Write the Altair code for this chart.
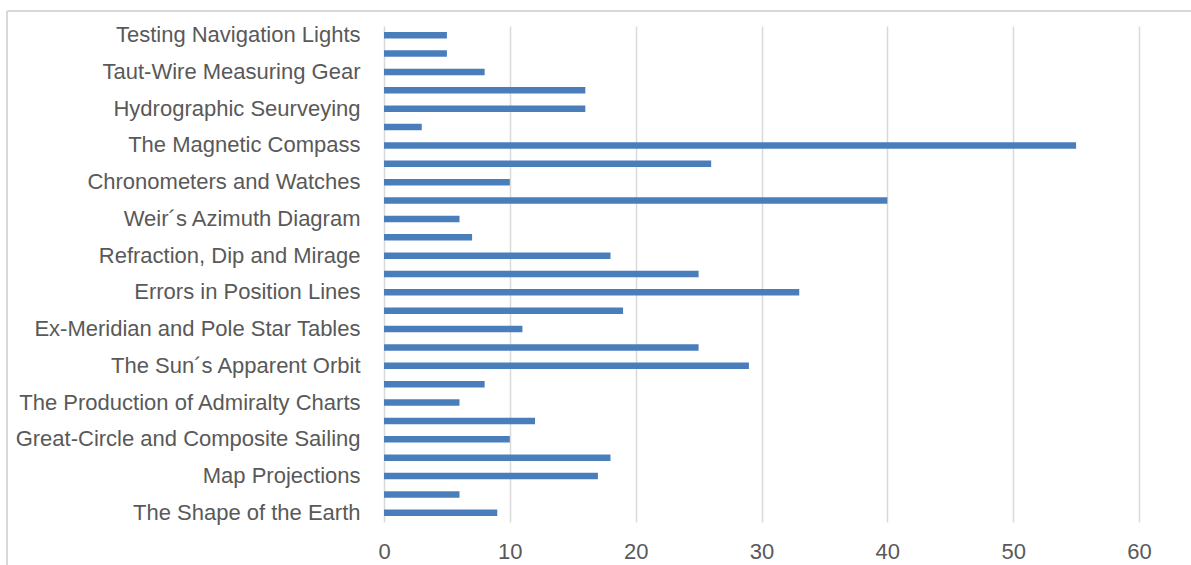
import altair as alt
import pandas as pd

categories = [
    "Testing Navigation Lights", " ",
    "Taut-Wire Measuring Gear", "  ",
    "Hydrographic Seurveying", "   ",
    "The Magnetic Compass", "    ",
    "Chronometers and Watches", "     ",
    "Weir´s Azimuth Diagram", "      ",
    "Refraction, Dip and Mirage", "       ",
    "Errors in Position Lines", "        ",
    "Ex-Meridian and Pole Star Tables", "         ",
    "The Sun´s Apparent Orbit", "          ",
    "The Production of Admiralty Charts", "           ",
    "Great-Circle and Composite Sailing", "            ",
    "Map Projections", "             ",
    "The Shape of the Earth ",
]
values = [5, 5, 8, 16, 16, 3, 55, 26, 10, 40, 6, 7, 18, 25, 33, 19, 11, 25, 29, 8,
          6, 12, 10, 18, 17, 6, 9]
x_ticks = [0, 10, 20, 30, 40, 50, 60]

df = pd.DataFrame({"category": categories, "value": values})

FONT = "Liberation Sans"
TEXT = "#595959"
GRID = "#d9d9d9"

bars = alt.Chart(df).mark_bar(size=6.5, color="#4a7ebb").encode(
    x=alt.X("value:Q",
            scale=alt.Scale(domain=[0, 60], nice=False),
            axis=alt.Axis(values=x_ticks, title=None, grid=True, gridColor=GRID,
                          gridWidth=1.5, domain=False, ticks=False,
                          labelFlush=False,
                          labelFont=FONT, labelFontSize=22, labelColor=TEXT,
                          labelPadding=19)),
    y=alt.Y("category:N", sort=None,
            scale=alt.Scale(paddingInner=0, paddingOuter=0),
            axis=alt.Axis(title=None, domain=False, ticks=False, grid=False,
                          labelFont=FONT, labelFontSize=22, labelColor=TEXT,
                          labelPadding=24, labelLimit=400)),
)

top_border = alt.Chart(pd.DataFrame({"a": [0]})).mark_rule(
    stroke=GRID, strokeWidth=2
).encode(x=alt.value(-377), x2=alt.value(900), y=alt.value(-15))

left_border = alt.Chart(pd.DataFrame({"a": [0]})).mark_rule(
    stroke=GRID, strokeWidth=2
).encode(x=alt.value(-377), y=alt.value(-15), y2=alt.value(700))

chart = alt.layer(top_border, left_border, bars).properties(
    width=755, height=496,
    background="white",
    autosize=alt.AutoSizeParams(type="none"),
    padding={"left": 384, "top": 26, "right": 52, "bottom": 43},
).configure_view(strokeWidth=0, stroke="transparent")

chart.save("out.html", embed_options={"renderer": "svg", "actions": False})
